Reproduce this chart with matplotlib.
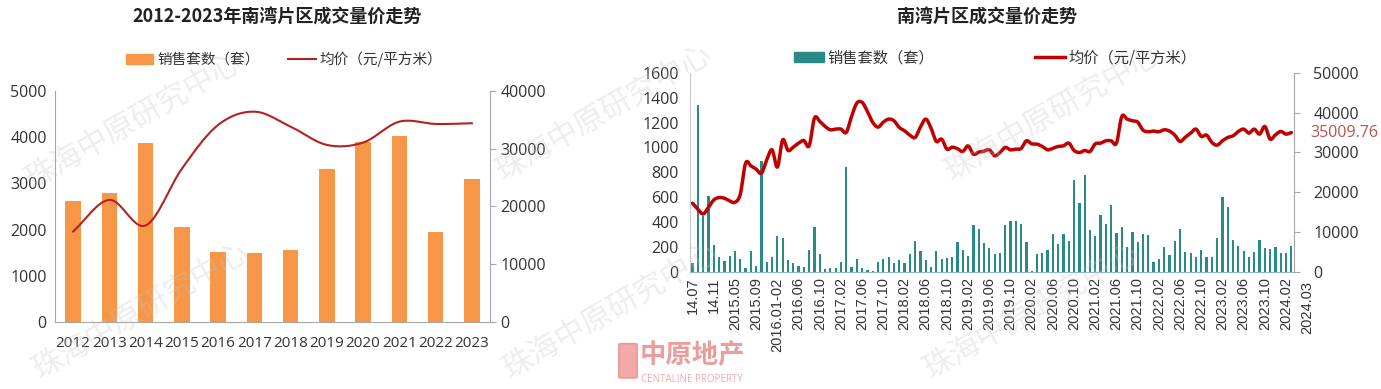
import numpy as np
import matplotlib
matplotlib.use("Agg")
import matplotlib.pyplot as plt
from matplotlib.patches import Patch, FancyBboxPatch
from matplotlib.lines import Line2D

plt.rcParams['font.family'] = ['Open Sans', 'Noto Sans CJK SC', 'DejaVu Sans']

# ---- yearly data (left chart)
years = ['2012', '2013', '2014', '2015', '2016', '2017', '2018', '2019', '2020', '2021', '2022', '2023']
sales_yearly = [2617, 2797, 3875, 2056, 1524, 1503, 1567, 3300, 3890, 4019, 1948, 3099]
price_yearly = [15650, 21120, 16690, 26500, 34070, 36370, 33780, 30620, 31020, 34640, 34240, 34360]

# ---- monthly data (right chart), 2014.07 - 2024.03
sales_monthly = [67, 1340, 448, 608, 212, 120, 83, 129, 163, 99, 32, 166, 48, 892,
                 78, 120, 287, 271, 94, 72, 46, 40, 174, 362, 142, 19, 29, 29,
                 78, 844, 40, 99, 32, 13, 8, 78, 99, 115, 72, 91, 72, 145,
                 247, 166, 91, 40, 166, 102, 107, 115, 239, 174, 129, 375, 346, 233,
                 188, 142, 147, 375, 410, 405, 383, 241, 8, 142, 150, 172, 306, 225,
                 306, 247, 737, 557, 775, 338, 287, 456, 381, 536, 314, 359, 196, 322,
                 239, 303, 295, 80, 99, 198, 137, 247, 346, 158, 150, 115, 174, 115,
                 121, 273, 598, 517, 255, 204, 166, 115, 158, 255, 190, 182, 198, 153,
                 153, 204]
price_monthly = [17220, 15700, 14530, 16200, 18060, 18650, 18480, 17800, 17470, 19490,
                 27300, 26630, 25790, 24780, 28140, 30660, 26300, 33180, 30500, 31330,
                 32340, 33010, 31670, 38640, 37800, 36540, 35700, 35870, 35870, 35030,
                 39060, 42420, 42590, 40320, 37550, 36370, 37630, 38390, 37970, 36290,
                 35450, 34360, 33770, 36370, 38390, 36120, 32760, 33350, 30830, 31330,
                 30910, 30240, 31670, 29570, 30070, 30320, 30660, 29150, 29990, 31250,
                 30660, 30830, 31000, 32930, 32170, 32090, 31500, 30660, 31080, 31500,
                 31670, 32340, 30490, 29990, 30490, 30240, 32170, 32340, 32930, 32930,
                 32340, 39060, 38390, 37970, 37630, 35620, 35200, 35370, 35200, 35700,
                 35370, 34360, 32760, 33850, 34860, 35870, 34020, 34360, 32510, 31840,
                 32930, 33770, 34190, 35280, 35870, 34860, 35870, 34610, 36540, 33350,
                 34440, 35280, 34610, 35009.76]
tick_labels = ['14.07', '14.11', '2015.05', '2015.09', '2016.01-02', '2016.06', '2016.10',
               '2017.02', '2017.06', '2017.10', '2018.02', '2018.06', '2018.10', '2019.02',
               '2019.06', '2019.10', '2020.02', '2020.06', '2020.10', '2021.02', '2021.06',
               '2021.10', '2022.02', '2022.06', '2022.10', '2023.02', '2023.06', '2023.10',
               '2024.02', '2024.03']

ORANGE = '#F79646'
TEAL = '#2A8A88'
RED_L = '#B22222'
RED_R = '#C00000'
GRAY = '#A6A6A6'
TXT = '#333333'
CJK = ['Noto Sans CJK SC', 'DejaVu Sans']


def smooth(y, n=16):
    # catmull-rom curve through the points, like excel "smoothed line"
    y = np.asarray(y, float)
    x = np.arange(len(y), dtype=float)
    p = np.concatenate([[2 * y[0] - y[1]], y, [2 * y[-1] - y[-2]]])
    xs, ys = [], []
    for i in range(len(y) - 1):
        t = np.linspace(0, 1, n, endpoint=False)
        p0, p1, p2, p3 = p[i], p[i + 1], p[i + 2], p[i + 3]
        yy = 0.5 * (2 * p1 + (-p0 + p2) * t + (2 * p0 - 5 * p1 + 4 * p2 - p3) * t ** 2
                    + (-p0 + 3 * p1 - 3 * p2 + p3) * t ** 3)
        xs.append(x[i] + t)
        ys.append(yy)
    xs.append([x[-1]])
    ys.append([y[-1]])
    return np.concatenate(xs), np.concatenate(ys)


fig = plt.figure(figsize=(13.81, 3.89), dpi=100)

# ---------------- watermarks (behind everything)
wm = '珠海中原研究中心'
for (x, y) in [(0.015, 0.50), (0.02, 0.01), (0.355, 0.52), (0.68, 0.52), (0.665, 0.01), (0.36, 0.01)]:
    fig.text(x, y, wm, rotation=30, fontsize=22, color='#C4C4C4', alpha=0.3,
             family=CJK, ha='left', va='bottom', zorder=0)

# ---------------- left chart
ax1 = fig.add_axes([0.0398, 0.172, 0.315, 0.595])
ax1.patch.set_alpha(0)
xi = np.arange(len(years))
ax1.bar(xi, sales_yearly, width=0.43, color=ORANGE, zorder=2)
ax1.set_xlim(-0.5, len(years) - 0.5)
ax1.set_ylim(0, 5000)
ax1.set_yticks(range(0, 5001, 1000))
ax1.set_xticks(xi)
ax1.set_xticklabels(years)
ax1.tick_params(axis='y', length=0, labelsize=11.5, colors=TXT, pad=6)
ax1.tick_params(axis='x', length=0, labelsize=11, colors=TXT, pad=10)
for s in ['top', 'right']:
    ax1.spines[s].set_visible(False)
for s in ['left', 'bottom']:
    ax1.spines[s].set_color(GRAY)

ax1r = ax1.twinx()
sx, sy = smooth(price_yearly)
ax1r.plot(sx, sy, color=RED_L, lw=1.5, zorder=3)
ax1r.set_ylim(0, 40000)
ax1r.set_yticks(range(0, 40001, 10000))
ax1r.tick_params(axis='y', length=4, color=GRAY, labelsize=11.5, colors=TXT)
for s in ['top', 'left', 'bottom']:
    ax1r.spines[s].set_visible(False)
ax1r.spines['right'].set_color(GRAY)

fig.text(0.2005, 0.955, '2012-2023年南湾片区成交量价走势', ha='center', va='center',
         fontsize=13, fontweight='bold', color='#222222', family=CJK)
h1 = [Patch(color=ORANGE), Line2D([], [], color=RED_L, lw=1.5)]
fig.legend(h1, ['销售套数（套）', '均价（元/平方米）'], loc='center', bbox_to_anchor=(0.2058, 0.848),
           ncol=2, frameon=False, handlelength=1.9, handletextpad=0.3, columnspacing=1.9,
           labelcolor=TXT, prop={'family': CJK, 'size': 10.5})

# ---------------- right chart
ax2 = fig.add_axes([0.4996, 0.3015, 0.4374, 0.511])
ax2.patch.set_alpha(0)
mi = np.arange(len(sales_monthly))
ax2.bar(mi, sales_monthly, width=0.42, color=TEAL, zorder=2)
ax2.set_xlim(-0.5, len(sales_monthly) - 0.5)
ax2.set_ylim(0, 1600)
ax2.set_yticks(range(0, 1601, 200))
tpos = [4 * k for k in range(len(tick_labels)) if 4 * k < len(sales_monthly)]
ax2.set_xticks(tpos)
ax2.set_xticklabels(tick_labels[:len(tpos)], rotation=90, family='Liberation Sans',
                    fontsize=10.5, color=TXT)
for lab in tick_labels[len(tpos):]:
    ax2.text(4 * tick_labels.index(lab), -0.045, lab, rotation=90, ha='center', va='top',
             family='Liberation Sans', fontsize=10.5, color=TXT,
             transform=ax2.get_xaxis_transform(), clip_on=False)
ax2.tick_params(axis='x', length=0, pad=4)
ax2.tick_params(axis='y', length=0, labelsize=11.5, colors=TXT, pad=8)
for s in ['top', 'right']:
    ax2.spines[s].set_visible(False)
ax2.spines['left'].set_color('#C8C8C8')
ax2.spines['bottom'].set_color('#8FB8B8')

ax2r = ax2.twinx()
sx, sy = smooth(price_monthly, n=8)
ax2r.plot(sx, sy, color=RED_R, lw=2.5, zorder=3, solid_capstyle='round')
ax2r.set_ylim(0, 50000)
ax2r.set_yticks(range(0, 50001, 10000))
ax2r.tick_params(axis='y', length=4, color=GRAY, labelsize=11.5, colors=TXT, pad=10)
for s in ['top', 'left', 'bottom']:
    ax2r.spines[s].set_visible(False)
ax2r.spines['right'].set_color(GRAY)
ax2r.annotate(f'{price_monthly[-1]:.2f}', xy=(1.0, price_monthly[-1]),
              xycoords=('axes fraction', 'data'), xytext=(12, 0), textcoords='offset points',
              va='center', ha='left', fontsize=11.5, color='#B85450', annotation_clip=False)

fig.text(0.7146, 0.955, '南湾片区成交量价走势', ha='center', va='center',
         fontsize=13, fontweight='bold', color='#222222', family=CJK)
h2 = [Patch(color=TEAL), Line2D([], [], color=RED_R, lw=2.5)]
fig.legend(h2, ['销售套数（套）', '均价（元/平方米）'], loc='center', bbox_to_anchor=(0.7205, 0.851),
           ncol=2, frameon=False, handlelength=2.0, handletextpad=0.2, columnspacing=6.6,
           labelcolor=TXT, prop={'family': CJK, 'size': 11})

# ---------------- logo
fig.patches.append(FancyBboxPatch((0.4500, 0.03), 0.0095, 0.085, boxstyle='round,pad=0.002',
                                  transform=fig.transFigure, color='#E87070', alpha=0.6))
fig.text(0.463, 0.085, '中原地产', fontsize=19, fontweight='bold', color='#E05A5A', alpha=0.6,
         family=CJK, ha='left', va='center')
fig.text(0.464, 0.025, 'CENTALINE PROPERTY', fontsize=7, color='#E08080', alpha=0.65,
         ha='left', va='center')

fig.savefig('out.png', dpi=100)
